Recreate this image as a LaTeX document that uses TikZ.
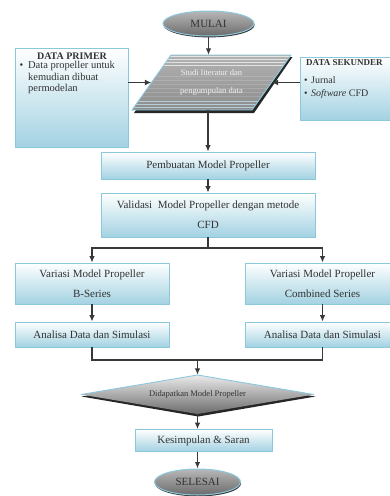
\documentclass[tikz,border=0pt]{standalone}
\usepackage{fontspec}
\setmainfont{Liberation Serif}
\usetikzlibrary{shapes.geometric,arrows.meta,calc,shadows}
\definecolor{bblue}{HTML}{A3D2E2}
\definecolor{bborder}{HTML}{8CC8DC}
\definecolor{txt}{HTML}{333333}
\definecolor{lnc}{HTML}{383838}
\begin{document}
\begin{tikzpicture}[x=1pt,y=-1pt,
  box/.style={draw=bborder, line width=0.8pt, top color=white, bottom color=bblue,
    inner sep=0pt, text=txt, font=\fontsize{11}{20}\selectfont, align=center},
  ell/.style={ellipse, draw=bborder, line width=1pt, top color=black!28, bottom color=black!58,
    text=txt, font=\fontsize{11}{13}\selectfont, inner sep=0pt,
    drop shadow={shadow xshift=0.6pt, shadow yshift=-1.4pt, fill=black!80, opacity=1}},
  conn/.style={draw=lnc, line width=1.2pt},
  arr/.style={conn, -{Latex[length=6.5pt,width=5.5pt]}},
  arrT/.style={draw=lnc, line width=1.8pt, -{Latex[length=6.5pt,width=6pt]}},
  lbl/.style={text=txt, inner sep=0pt}
]
\path[use as bounding box] (0,0) rectangle (390,496);
\clip (0,0) rectangle (390,496);

% --- start
\node[ell, minimum width=91pt, minimum height=25pt] (mulai) at (208.5,23.5) {MULAI};

% --- side data boxes
\node[box, minimum width=113pt, minimum height=99pt] (primer) at (71.5,97.5) {};
\node[lbl, font=\bfseries\fontsize{10}{12}\selectfont] (primerT) at (72,56) {DATA PRIMER};
\node[lbl, anchor=north west, align=left, font=\fontsize{10.5}{11.5}\selectfont] (primerB) at (19.5,61.5)
  {•\hspace{0.45em}Data propeller untuk\\\phantom{•\hspace{0.45em}}kemudian dibuat\\\phantom{•\hspace{0.45em}}permodelan};

\node[box, minimum width=100pt, minimum height=63pt] (sek) at (350,88.5) {};
\node[lbl, anchor=west, font=\bfseries\fontsize{9}{11}\selectfont] (sekT) at (306,62.5) {DATA SEKUNDER};
\node[lbl, anchor=north west, align=left, font=\fontsize{10}{12.5}\selectfont] (sekB) at (304,76.5)
  {•\hspace{0.35em}Jurnal\\•\hspace{0.35em}\textit{Software} CFD};

% --- parallelogram (drawn shape)
\fill[black!85] (173.5,57) -- (292.5,57) -- (254,113) -- (134,113) -- cycle;
\shade[top color=black!30, middle color=black!60, bottom color=black!45]
  (171,55) -- (291,55) -- (252,110) -- (132,110) -- cycle;
\begin{scope}
  \clip (171,55) -- (291,55) -- (252,110) -- (132,110) -- cycle;
  \foreach \yy in {56.5,59.3,...,66} \draw[white, opacity=0.65, line width=0.8pt] (125,\yy) -- (300,\yy);
  \foreach \yy in {76,80,...,99} \draw[white, opacity=0.15, line width=0.6pt] (125,\yy) -- (300,\yy);
  \foreach \yy in {101.5,104.5,...,110} \draw[bblue!70!white, opacity=0.8, line width=0.9pt] (125,\yy) -- (300,\yy);
\end{scope}
\draw[bborder, line width=0.9pt] (171,55) -- (291,55) -- (252,110) -- (132,110) -- cycle;
\node[minimum width=120pt, minimum height=55pt, inner sep=0pt, text=white!95!black,
  font=\fontsize{8.5}{18}\selectfont, align=center] (para) at (211.5,82.5)
  {Studi literatur dan\\pengumpulan data};

% --- main column
\node[box, minimum width=214pt, minimum height=27pt] (pemb) at (208,165.5) {Pembuatan Model Propeller};
\node[box, minimum width=214pt, minimum height=44pt] (valid) at (208,215) {Validasi\ \ Model Propeller dengan metode\\CFD};
\node[box, minimum width=154pt, minimum height=41pt] (var1) at (92,283.5) {Variasi Model Propeller\\B-Series};
\node[box, minimum width=155pt, minimum height=41pt] (var2) at (322.5,283.5) {Variasi Model Propeller\\Combined Series};
\node[box, minimum width=154pt, minimum height=25pt] (ana1) at (92,334.5) {Analisa Data dan Simulasi};
\node[box, minimum width=155pt, minimum height=25pt] (ana2) at (322.5,334.5) {Analisa Data dan Simulasi};

% --- decision (drawn shape + named node)
\fill[black!85] (198.3,377) -- (315.5,396.5) -- (198.3,416.5) -- (81.5,396.5) -- cycle;
\shade[top color=black!8, middle color=black!35, bottom color=black!58]
  (197.5,375) -- (314,394.5) -- (197.5,414) -- (81,394.5) -- cycle;
\draw[bborder, line width=0.9pt] (81,394.5) -- (197.5,375) -- (314,394.5);
\node[minimum width=233pt, minimum height=39pt, inner sep=0pt, text=txt,
  font=\fontsize{8.5}{10}\selectfont] (dia) at (197.5,394.5)
  {\raisebox{2.5pt}{Didapatkan Model Propeller}};

\node[box, minimum width=137pt, minimum height=22pt] (kes) at (203.5,440.5) {Kesimpulan \& Saran};
\node[ell, minimum width=86pt, minimum height=26pt] (sel) at (197.5,482) {SELESAI};

% --- connectors
\draw[arr] (mulai.south) -- (mulai.south |- para.north);
\draw[arrT] (para.west -| primer.east) -- (para.west);
\draw[arrT] (para.east -| sek.west) -- (para.east);
\draw[arr] (pemb.north |- para.south) -- (pemb.north);
\draw[arr] (pemb.south) -- (valid.north);
\coordinate (split) at (208,248);
\draw[conn] (valid.south) -- (split);
\draw[arr] (split) -| (var1.north);
\draw[arr] (split) -| (var2.north);
\draw[arr] (var1.south) -- (ana1.north);
\draw[arr] (var2.south) -- (ana2.north);
\coordinate (merge) at (197.5,360);
\draw[conn] (ana1.south) |- (merge);
\draw[conn] (ana2.south) |- (merge);
\draw[arr] (merge) -- (dia.north);
\draw[arr] (dia.south) -- (dia.south |- kes.north);
\draw[arr] (kes.south -| sel.north) -- (sel.north);
\end{tikzpicture}
\end{document}
